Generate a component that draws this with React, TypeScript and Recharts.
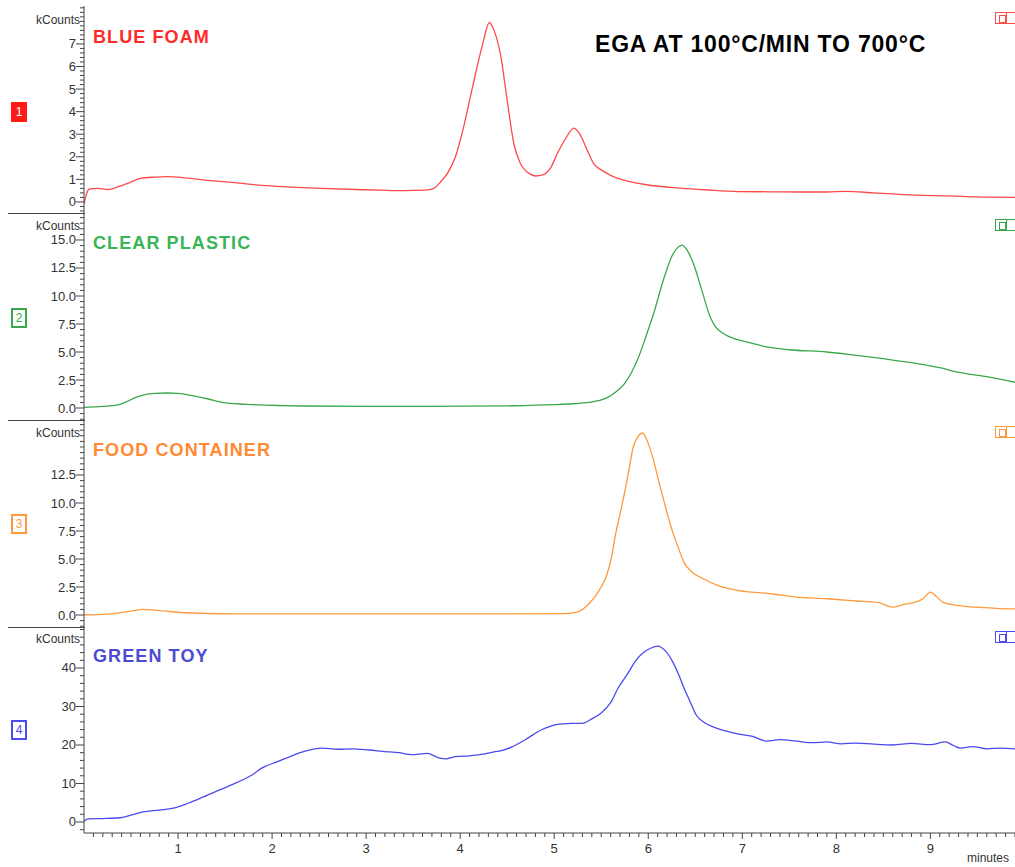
import React from "react";
import { LineChart, Line, XAxis, YAxis } from "recharts";

// readings per panel: minutes and kCounts
const blueFoamTime = [0, 0.03, 0.06, 0.15, 0.25, 0.38, 0.5, 0.6, 0.75, 0.89, 1.05, 1.26, 1.6, 1.89, 2.2, 2.53, 2.9, 3.16, 3.4, 3.63, 3.72, 3.79, 3.87, 3.95, 4.03, 4.1, 4.17, 4.24, 4.31, 4.36, 4.43, 4.5, 4.57, 4.64, 4.72, 4.8, 4.88, 4.96, 5.04, 5.12, 5.21, 5.28, 5.35, 5.42, 5.5, 5.6, 5.75, 6.0, 6.3, 6.6, 6.95, 7.3, 7.6, 7.9, 8.1, 8.4, 8.84, 9.2, 9.5, 9.9];
const blueFoamCounts = [-0.1, 0.4, 0.58, 0.6, 0.55, 0.7, 0.88, 1.04, 1.1, 1.12, 1.08, 0.98, 0.86, 0.73, 0.66, 0.6, 0.55, 0.52, 0.5, 0.52, 0.6, 0.88, 1.3, 2.0, 3.2, 4.5, 5.8, 7.0, 7.95, 7.6, 6.5, 4.5, 2.6, 1.7, 1.3, 1.15, 1.2, 1.5, 2.2, 2.8, 3.27, 2.95, 2.3, 1.7, 1.42, 1.18, 0.95, 0.75, 0.62, 0.54, 0.46, 0.45, 0.44, 0.44, 0.47, 0.4, 0.3, 0.27, 0.22, 0.2];

const clearPlasticTime = [0, 0.2, 0.35, 0.45, 0.55, 0.65, 0.75, 0.88, 1.0, 1.15, 1.3, 1.51, 1.8, 2.1, 2.34, 3.0, 3.5, 4.0, 4.55, 5.0, 5.2, 5.37, 5.47, 5.56, 5.65, 5.75, 5.83, 5.9, 5.98, 6.06, 6.16, 6.26, 6.31, 6.36, 6.42, 6.48, 6.57, 6.66, 6.72, 6.79, 6.95, 7.1, 7.26, 7.5, 7.9, 8.21, 8.5, 8.84, 9.1, 9.29, 9.6, 9.9];
const clearPlasticCounts = [0.05, 0.15, 0.25, 0.55, 0.95, 1.2, 1.3, 1.34, 1.3, 1.1, 0.85, 0.45, 0.3, 0.22, 0.18, 0.15, 0.15, 0.16, 0.2, 0.3, 0.38, 0.5, 0.65, 0.9, 1.4, 2.2, 3.3, 4.6, 6.5, 8.5, 11.4, 13.7, 14.3, 14.55, 14.0, 12.9, 10.5, 8.1, 7.2, 6.7, 6.1, 5.8, 5.45, 5.2, 5.0, 4.7, 4.4, 4.0, 3.6, 3.2, 2.8, 2.3];

const foodContainerTime = [0, 0.2, 0.38, 0.5, 0.63, 0.8, 1.07, 1.58, 2.5, 3.5, 4.5, 5.12, 5.24, 5.33, 5.43, 5.5, 5.56, 5.61, 5.65, 5.7, 5.75, 5.8, 5.84, 5.89, 5.94, 6.0, 6.06, 6.11, 6.16, 6.21, 6.26, 6.32, 6.38, 6.47, 6.57, 6.75, 6.95, 7.3, 7.58, 7.9, 8.21, 8.45, 8.6, 8.72, 8.84, 8.93, 9.0, 9.07, 9.13, 9.25, 9.48, 9.7, 9.9];
const foodContainerCounts = [0.0, 0.05, 0.2, 0.35, 0.5, 0.4, 0.2, 0.1, 0.1, 0.1, 0.1, 0.12, 0.25, 0.7, 1.6, 2.5, 3.6, 5.2, 7.1, 9.0, 11.0, 13.2, 15.0, 15.9, 16.25, 15.3, 13.7, 12.0, 10.4, 8.8, 7.4, 6.0, 4.7, 3.8, 3.3, 2.6, 2.2, 1.9, 1.6, 1.45, 1.25, 1.1, 0.7, 0.95, 1.15, 1.5, 2.05, 1.6, 1.15, 0.9, 0.7, 0.6, 0.55];

const greenToyTime = [0, 0.05, 0.2, 0.38, 0.5, 0.63, 0.8, 0.95, 1.1, 1.27, 1.45, 1.64, 1.8, 1.89, 2.05, 2.21, 2.35, 2.53, 2.7, 2.85, 3.03, 3.2, 3.35, 3.48, 3.65, 3.78, 3.85, 3.95, 4.1, 4.25, 4.36, 4.45, 4.55, 4.7, 4.86, 4.95, 5.05, 5.18, 5.31, 5.4, 5.5, 5.6, 5.68, 5.78, 5.87, 5.95, 6.03, 6.1, 6.18, 6.26, 6.32, 6.38, 6.45, 6.51, 6.6, 6.69, 6.8, 6.95, 7.1, 7.26, 7.4, 7.58, 7.75, 7.9, 8.05, 8.21, 8.4, 8.6, 8.8, 9.0, 9.16, 9.25, 9.32, 9.45, 9.6, 9.75, 9.9];
const greenToyCounts = [0.3, 0.8, 0.9, 1.1, 1.8, 2.6, 3.1, 3.6, 4.8, 6.5, 8.4, 10.4, 12.4, 14.0, 15.6, 17.2, 18.4, 19.2, 18.9, 19.0, 18.7, 18.3, 18.0, 17.5, 17.8, 16.6, 16.4, 17.0, 17.2, 17.6, 18.2, 18.6, 19.5, 21.5, 23.9, 24.8, 25.4, 25.6, 25.7, 26.8, 28.3, 31.0, 34.8, 38.5, 42.0, 44.0, 45.2, 45.7, 44.5, 41.6, 38.5, 34.8, 31.0, 27.8, 25.8, 24.7, 23.8, 22.9, 22.3, 21.0, 21.4, 21.0, 20.6, 20.8, 20.3, 20.5, 20.2, 20.0, 20.4, 20.1, 20.8, 19.8, 19.2, 19.6, 19.0, 19.2, 19.0];

const sampleNames = ["BLUE FOAM", "CLEAR PLASTIC", "FOOD CONTAINER", "GREEN TOY"];
const minuteLabels = [1, 2, 3, 4, 5, 6, 7, 8, 9];
const foamTicks = [0, 1, 2, 3, 4, 5, 6, 7];
const plasticTicks = [0, 2.5, 5, 7.5, 10, 12.5, 15];
const containerTicks = [0, 2.5, 5, 7.5, 10, 12.5];
const toyTicks = [0, 10, 20, 30, 40];

const AXIS = "#444";
const TEXT = "#333";
const FONT = "'Liberation Sans', Arial, sans-serif";

function rows(time: number[], counts: number[]) {
    return time.map((t, i) => ({ t, v: counts[i] }));
}

function steps(from: number, to: number, step: number) {
    const out: number[] = [];
    for (let v = from; v <= to + 1e-9; v += step) out.push(Math.round(v * 1000) / 1000);
    return out;
}

const YTick = (props: any) => {
    const { x, y, payload, majors, decimals } = props;
    const v = payload.value;
    const major = majors.some((m: number) => Math.abs(m - v) < 1e-6);
    return (
        <g>
            <line x1={x - (major ? 8 : 4)} x2={x} y1={y} y2={y} stroke={AXIS} />
            {major && (
                <text x={x - 8} y={y} dy={4.5} textAnchor="end" fontSize={13} fill={TEXT} fontFamily={FONT}>
                    {v.toFixed(decimals)}
                </text>
            )}
        </g>
    );
};

const XTick = (props: any) => {
    const { x, y, payload } = props;
    const v = payload.value;
    const major = minuteLabels.some((m) => Math.abs(m - v) < 1e-6);
    return (
        <g>
            <line x1={x} x2={x} y1={y} y2={y + (major ? 6 : 4)} stroke={AXIS} />
            {major && (
                <text x={x} y={y + 20} textAnchor="middle" fontSize={13} fill={TEXT} fontFamily={FONT}>
                    {v}
                </text>
            )}
        </g>
    );
};

type PanelProps = {
    top: number;
    height: number;
    data: { t: number; v: number }[];
    color: string;
    domain: [number, number];
    ticks: number[];
    majors: number[];
    decimals: number;
    showX?: boolean;
};

function Panel({ top, height, data, color, domain, ticks, majors, decimals, showX }: PanelProps) {
    return (
        <div style={{ position: "absolute", left: 0, top }}>
            <LineChart width={1015} height={height} data={data} margin={{ top: 0, right: 0, bottom: 0, left: 0 }}>
                <XAxis
                    type="number"
                    dataKey="t"
                    domain={[0, 9.9]}
                    allowDataOverflow
                    ticks={showX ? steps(0.1, 9.9, 0.1) : []}
                    tick={showX ? <XTick /> : false}
                    tickLine={false}
                    tickSize={0}
                    tickMargin={0}
                    height={showX ? 34 : 0}
                    axisLine={{ stroke: AXIS }}
                    interval={0}
                />
                <YAxis
                    type="number"
                    domain={domain}
                    allowDataOverflow
                    ticks={ticks}
                    interval={0}
                    width={84}
                    tickLine={false}
                    tickSize={0}
                    tickMargin={0}
                    axisLine={{ stroke: AXIS }}
                    tick={<YTick majors={majors} decimals={decimals} />}
                />
                <Line
                    type="monotone"
                    dataKey="v"
                    stroke={color}
                    strokeWidth={1.3}
                    dot={false}
                    isAnimationActive={false}
                />
            </LineChart>
        </div>
    );
}

const panelColors = ["#ff4a4a", "#3aa84a", "#ff9a3c", "#4a4af0"];
const labelColors = ["#ff2a2a", "#38b557", "#ff8a33", "#4b4bd2"];
const labelTops = [27, 233, 440, 646];
const kTops = [13, 219, 426, 632];
const boxTops = [102, 308, 514, 720];
const iconTops = [12, 219, 426, 631];
const separators = [213, 420, 627];

export default function App() {
    return (
        <div
            style={{
                position: "absolute",
                left: 0,
                top: 0,
                width: 1015,
                height: 867,
                overflow: "hidden",
                background: "#fff",
                fontFamily: FONT,
            }}
        >
            <Panel top={6} height={207} data={rows(blueFoamTime, blueFoamCounts)} color={panelColors[0]}
                domain={[-0.49, 8.68]} ticks={steps(-0.4, 8.6, 0.2)} majors={foamTicks} decimals={0} />
            <Panel top={213} height={207} data={rows(clearPlasticTime, clearPlasticCounts)} color={panelColors[1]}
                domain={[-1.07, 17.41]} ticks={steps(-1, 17, 0.5)} majors={plasticTicks} decimals={1} />
            <Panel top={420} height={207} data={rows(foodContainerTime, foodContainerCounts)} color={panelColors[2]}
                domain={[-1.07, 17.41]} ticks={steps(-1, 17, 0.5)} majors={containerTicks} decimals={1} />
            <Panel top={627} height={240} data={rows(greenToyTime, greenToyCounts)} color={panelColors[3]}
                domain={[-2.86, 50.65]} ticks={steps(-2, 50, 2)} majors={toyTicks} decimals={0} showX />

            {separators.map((y) => (
                <div key={y} style={{ position: "absolute", left: 8, top: y, width: 77, height: 1, background: AXIS }} />
            ))}

            {sampleNames.map((name, i) => (
                <div key={name} style={{
                    position: "absolute", left: 93, top: labelTops[i], fontSize: 18, fontWeight: "bold",
                    letterSpacing: 1.1, color: labelColors[i], whiteSpace: "nowrap",
                }}>{name}</div>
            ))}

            {kTops.map((y) => (
                <div key={y} style={{ position: "absolute", right: 1015 - 80, top: y, fontSize: 12, color: TEXT }}>kCounts</div>
            ))}

            {boxTops.map((y, i) => (
                <div key={y} style={{
                    position: "absolute", left: 11, top: y, width: i === 0 ? 16 : 12, height: i === 0 ? 20 : 16,
                    border: i === 0 ? "none" : `2px solid ${panelColors[i]}`,
                    background: i === 0 ? "#ff1a1a" : "#fff",
                    color: i === 0 ? "#fff" : panelColors[i],
                    fontSize: 12, lineHeight: i === 0 ? "20px" : "16px", textAlign: "center",
                }}>{i + 1}</div>
            ))}

            {iconTops.map((y, i) => (
                <div key={y} style={{
                    position: "absolute", left: 995, top: y, width: 22, height: 12,
                    border: `1px solid ${panelColors[i]}`, boxSizing: "border-box",
                }}>
                    <div style={{ position: "absolute", left: 3, top: 2, width: 5, height: 6, border: `1px solid ${panelColors[i]}` }} />
                    <div style={{ position: "absolute", left: 10, top: -1, width: 1, height: 12, background: panelColors[i] }} />
                </div>
            ))}

            <div style={{
                position: "absolute", left: 595, top: 31, fontSize: 23, fontWeight: "bold",
                letterSpacing: 0.8, color: "#000", whiteSpace: "nowrap",
            }}>EGA AT 100°C/MIN TO 700°C</div>

            <div style={{ position: "absolute", left: 967, top: 851, fontSize: 12, color: TEXT, whiteSpace: "nowrap" }}>minutes</div>
        </div>
    );
}
